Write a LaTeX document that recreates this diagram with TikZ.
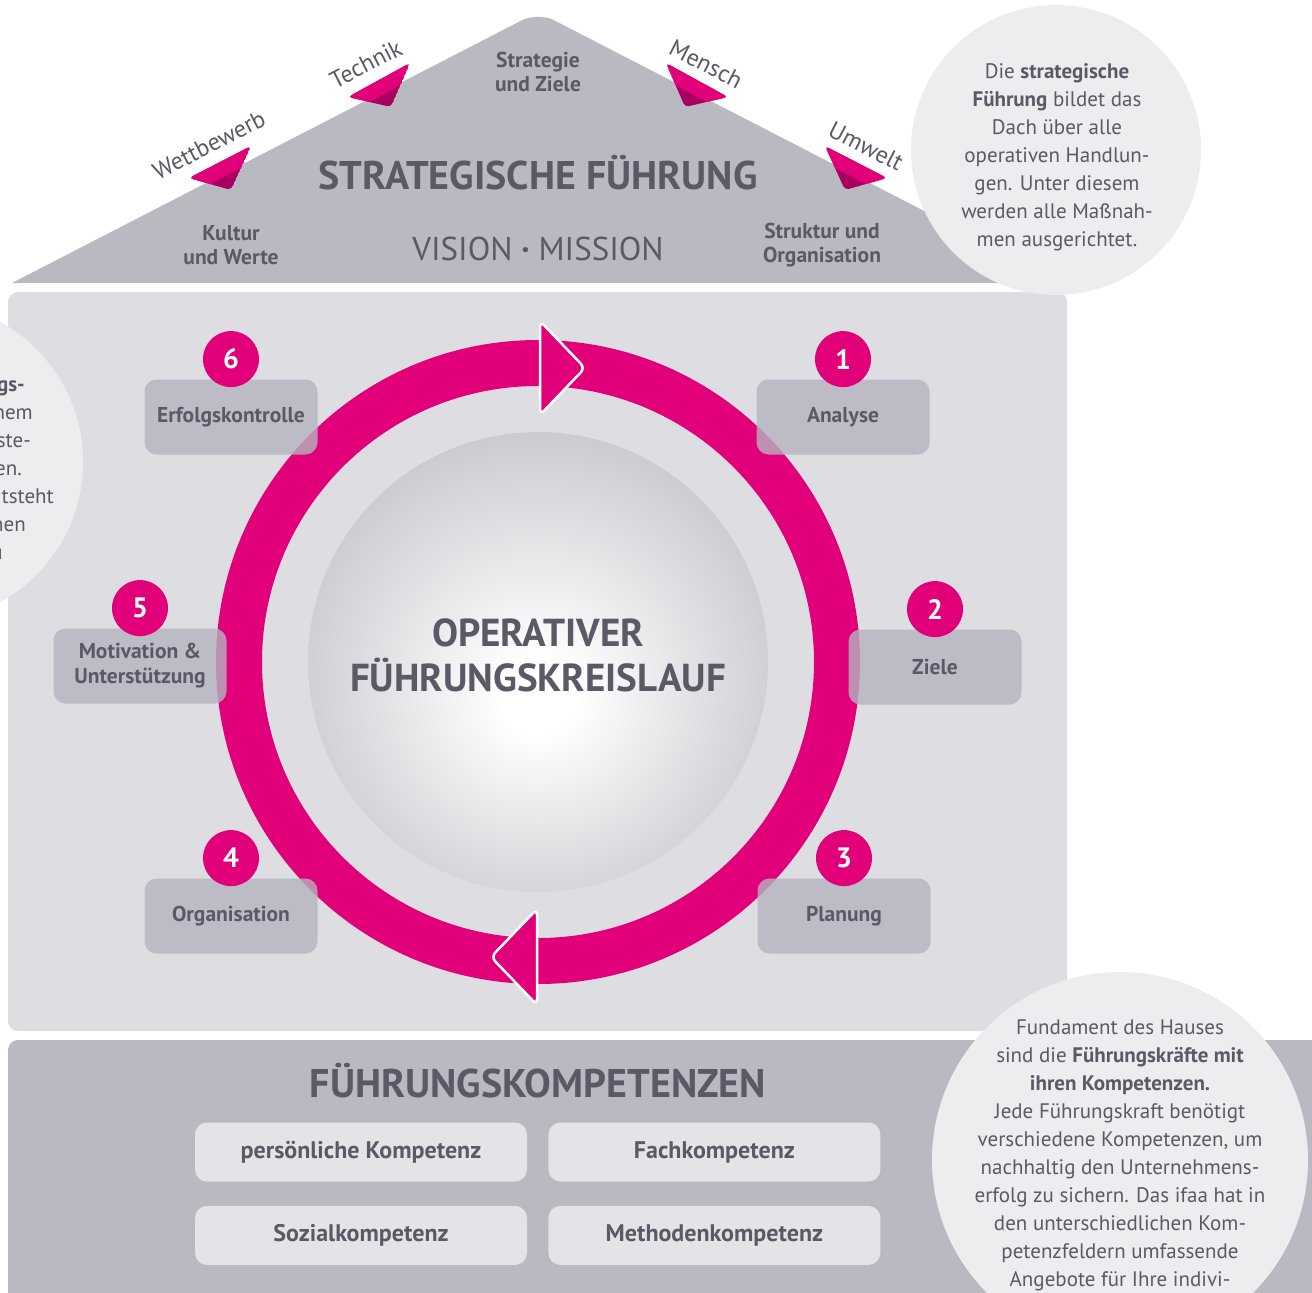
\documentclass[tikz,border=0pt]{standalone}
\usepackage{fontspec}
\setmainfont{PT Sans}
\usetikzlibrary{positioning}
\definecolor{roofgrey}{HTML}{B9B9C2}
\definecolor{bodygrey}{HTML}{DDDDE2}
\definecolor{bubblegrey}{HTML}{EDEDEF}
\definecolor{stepgrey}{HTML}{B4B3BF}
\definecolor{compgrey}{HTML}{E4E4E8}
\definecolor{txtgrey}{HTML}{5A5966}
\definecolor{ifaapink}{HTML}{E2007A}
\definecolor{darkpink}{HTML}{A8005E}
\definecolor{sphgrey}{HTML}{AFAEB8}
\pgfdeclareradialshading{sphere}{\pgfpoint{0bp}{-4bp}}{color(0bp)=(white); color(4bp)=(white); color(40bp)=(sphgrey); color(60bp)=(sphgrey)}
\begin{document}
\begin{tikzpicture}[x=1pt,y=-1pt,
    stepbox/.style={rounded corners=12pt, fill=stepgrey, fill opacity=0.8, text opacity=1, text=txtgrey, minimum width=173pt, minimum height=75pt, align=center, font=\fontsize{21.5}{25}\selectfont\bfseries},
    badge/.style={circle, fill=ifaapink, minimum size=56pt, inner sep=0pt, text=white, font=\fontsize{28}{28}\selectfont\bfseries},
    compbox/.style={rounded corners=12pt, fill=compgrey, text=txtgrey, minimum width=332pt, minimum height=59pt, font=\fontsize{24}{28}\selectfont\bfseries},
    rooflabel/.style={text=txtgrey, align=center, font=\fontsize{21.5}{24}\selectfont\bfseries},
    slopelabel/.style={text=txtgrey, font=\fontsize{24}{24}\selectfont},
    bubbletext/.style={text=txtgrey, anchor=base, inner sep=0pt, font=\fontsize{21}{28}\selectfont},
    title/.style={text=txtgrey, font=\fontsize{40}{42}\selectfont\bfseries}]
	\useasboundingbox (0,0) rectangle (1312,1293);
	\clip (0,0) rectangle (1312,1293);
	\fill[roofgrey] (12,283) [rounded corners=18pt] -- (538,12) [sharp corners] -- (1064,283) -- cycle;
	\fill[bodygrey, rounded corners=10pt] (8,292) rectangle (1067,1031);
	\fill[roofgrey, rounded corners=10pt] (8,1040) rectangle (1330,1320);
	\fill[bubblegrey] (1056,150) circle[radius=145pt];
	\fill[bubblegrey] (-77,462) circle[radius=160pt];
	\fill[bubblegrey] (1120,1160) circle[radius=188pt];
	\foreach \s in {1,-1}
		\foreach \ax/\ay/\bx/\by/\cx/\cy in {-349/178/-287/146/-307/190, -190/97/-128/63/-147/107}{
			\begin{scope}[shift={(538,0)}, xscale=\s]
				\clip[rounded corners=4pt] (\ax,\ay) -- (\bx,\by) -- (\cx,\cy) -- cycle;
				\fill[darkpink] (\ax,\ay) -- (\bx,\by) -- (\cx,\cy) -- cycle;
				\fill[ifaapink] (\ax,\ay) -- (\bx,\by) -- ({(\bx+\cx)/2},{(\by+\cy)/2}) -- ({(\ax+\cx)/2},{(\ay+\cy)/2}) -- cycle;
			\end{scope}
		}
	\node[slopelabel, rotate=27.2] (comp) at (209,145) {Wettbewerb};
	\node[slopelabel, rotate=27.2] (tech) at (366,64) {Technik};
	\node[slopelabel, rotate=-27.2] (human) at (706,64) {Mensch};
	\node[slopelabel, rotate=-27.2] (env) at (866,146) {Umwelt};
	\node[rooflabel] (goals) at (538,72) {Strategie\\und Ziele};
	\node[rooflabel] (culture) at (231,245) {Kultur\\und Werte};
	\node[rooflabel] (struct) at (822,245) {Struktur und\\Organisation};
	\node[title] (strat) at (538,173) {STRATEGISCHE FÜHRUNG};
	\node[text=txtgrey, font=\fontsize{33}{35}\selectfont] (vision) at (538,249) {VISION {\bfseries ·} MISSION};
	\draw[ifaapink, line width=46pt] (538,662) circle[radius=299pt];
	\filldraw[fill=ifaapink, draw=white, line width=2.5pt, rounded corners=6pt] (540,321) -- (585,368) -- (540,415) -- cycle;
	\filldraw[fill=ifaapink, draw=white, line width=2.5pt, rounded corners=6pt] (537,909) -- (491,957) -- (537,1005) -- cycle;
	\shade[shading=sphere] (538,662) circle[radius=230pt];
	\node[text=txtgrey, align=center, font=\fontsize{39}{45}\selectfont\bfseries] (core) at (538,655) {OPERATIVER\\FÜHRUNGSKREISLAUF};
	\node[stepbox] (s1) at (843,417) {Analyse};
	\node[stepbox] (s2) at (935,667) {Ziele};
	\node[stepbox] (s3) at (844,916) {Planung};
	\node[stepbox] (s4) at (231,916) {Organisation};
	\node[stepbox] (s5) at (140,666) {Motivation \&\\Unterstützung};
	\node[stepbox] (s6) at (231,417) {Erfolgskontrolle};
	\foreach \i in {1,...,6}
		\node[badge, above=-8pt of s\i] (b\i) {\i};
	\foreach \t [count=\i] in {{Die \textbf{strategische}}, {\textbf{Führung} bildet das}, Dach über alle, operativen Handlun-, gen. Unter diesem, werden alle Maßnah-, men ausgerichtet.}
		\node[bubbletext] (r\i) at (1057,{50+28*\i}) {\t};
	\foreach \t/\xe [count=\i] in {{\textbf{gs-}}/25, hem/33, ste-/31, en./22, tsteht/54, hen/26, u/3}
		\node[bubbletext, anchor=base east] (l\i) at (\xe,{363+28*\i}) {\t};
	\node[title] (found) at (538,1081) {FÜHRUNGSKOMPETENZEN};
	\node[compbox] (pers) at (361,1152) {persönliche Kompetenz};
	\node[compbox, right=21pt of pers] (fach) {Fachkompetenz};
	\node[compbox, below=24pt of pers] (sozial) {Sozialkompetenz};
	\node[compbox, below=24pt of fach] (method) {Methodenkompetenz};
	\foreach \t [count=\i] in {Fundament des Hauses, {sind die \textbf{Führungskräfte mit}}, {\textbf{ihren Kompetenzen.}}, Jede Führungskraft benötigt, {verschiedene Kompetenzen, um}, nachhaltig den Unternehmens-, {erfolg zu sichern. Das ifaa hat in}, den unterschiedlichen Kom-, petenzfeldern umfassende, Angebote für Ihre indivi-}
		\node[bubbletext] (f\i) at (1120,{1006+28*\i}) {\t};
\end{tikzpicture}
\end{document}
